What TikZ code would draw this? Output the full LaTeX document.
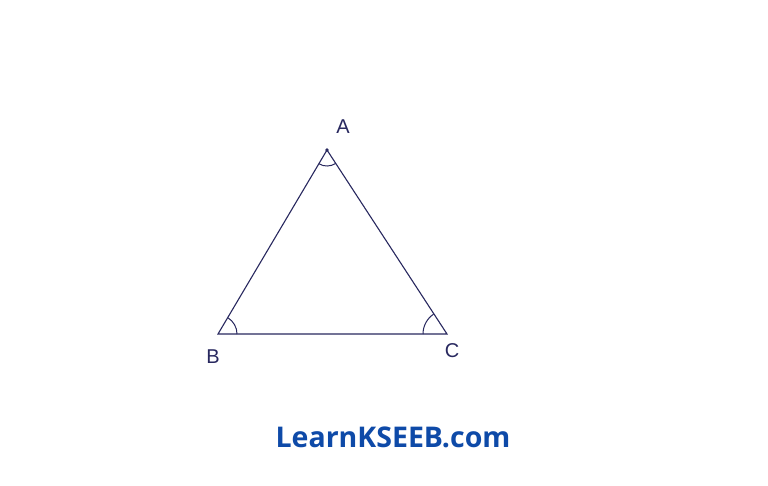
\documentclass[tikz,border=0pt]{standalone}
\usepackage{fontspec}
\setmainfont{Open Sans}
\newfontfamily\handfont{Liberation Sans}
\definecolor{ink}{RGB}{40,40,95}
\definecolor{brand}{RGB}{14,74,168}
\begin{document}
\begin{tikzpicture}[x=1pt,y=-1pt,
  edge/.style={draw=ink,line width=1.1pt},
  arcmark/.style={draw=ink,line width=1pt},
  vlabel/.style={text=ink,font=\handfont\fontsize{20}{20}\selectfont,inner sep=0pt}]
\useasboundingbox[fill=white] (0,0) rectangle (768,485);
\coordinate (A) at (327,150);
\coordinate (B) at (218,334);
\coordinate (C) at (447,334);
\draw[edge] (A) -- (B) -- (C) -- cycle;
\fill[ink] (A) circle (1.8);
% angle marks
\draw[arcmark] ([shift={(121:16)}]A) arc[start angle=121,end angle=57,radius=16];
\draw[arcmark] ([shift={(0:19)}]B) arc[start angle=0,end angle=-59,radius=19];
\draw[arcmark] ([shift={(180:24)}]C) arc[start angle=180,end angle=236,radius=24];
\node[vlabel] (la) at (343,127) {A};
\node[vlabel] (lb) at (213,357) {B};
\node[vlabel] (lc) at (452,351) {C};
\node[text=brand,font=\bfseries\fontsize{28.5}{28.5}\selectfont,inner sep=0pt] (wm) at (393,437) {LearnKSEEB.com};
\end{tikzpicture}
\end{document}
